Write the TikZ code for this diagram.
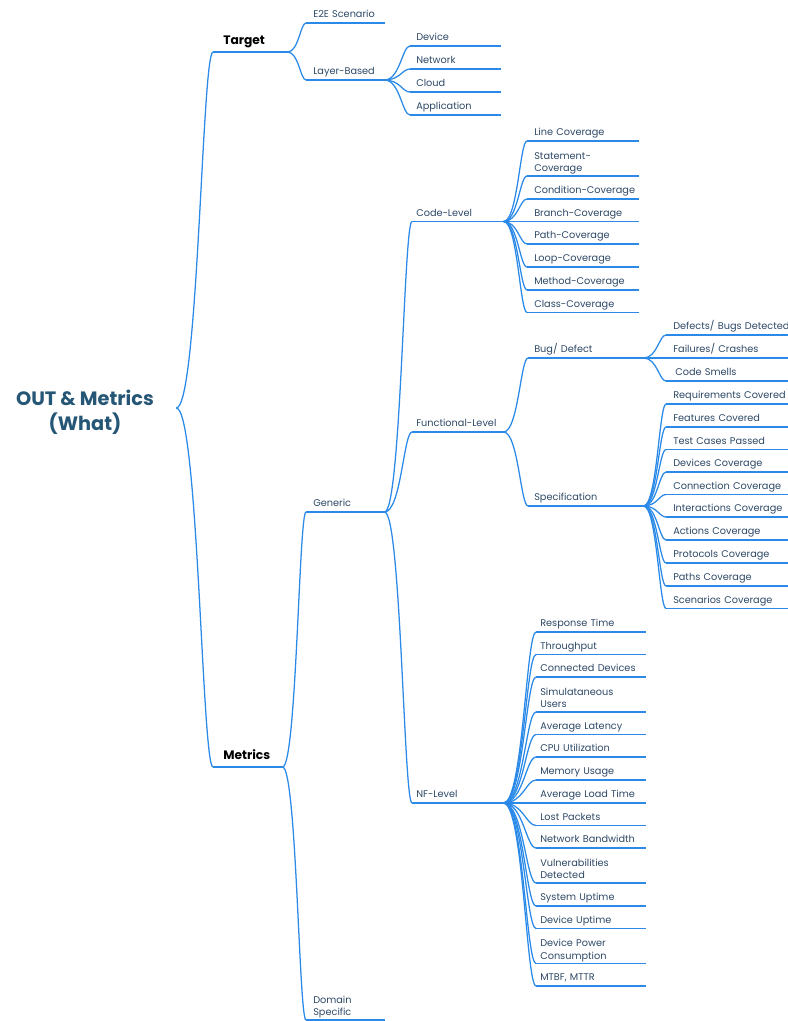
\documentclass[tikz,border=0pt]{standalone}
\usepackage{fontspec}
\setmainfont{Poppins}
\usetikzlibrary{calc}
\definecolor{lnc}{RGB}{43,138,232}
\definecolor{txt}{RGB}{45,72,102}
\definecolor{rootc}{RGB}{38,86,117}
\newcommand\nobrk{\hyphenpenalty 10000\relax\exhyphenpenalty 10000\relax}
\newcommand\br[2]{\draw[ln] let \p1=(#1), \p2=(#2) in (\p1) .. controls ({\x1+0.6*(\x2-\x1)},\y1) and ({\x2-0.3*(\x2-\x1)},\y2) .. (\p2);}
\tikzset{
  ln/.style={draw=lnc, line width=0.95pt},
  base/.style={anchor=south west, inner ysep=0pt, align=left, text=txt,
    font={\fontsize{7.3pt}{9.25pt}\selectfont\nobrk},
    text depth=3.8pt,
    append after command={(\tikzlastnode.south west) edge[ln] (\tikzlastnode.south east)}},
  two/.style={text depth=12.3pt},
  hd/.style={base, text=black, font={\fontsize{9.2pt}{11pt}\selectfont\bfseries}, inner xsep=7.5pt, text depth=5.7pt},
  ltwo/.style={base, inner xsep=5.25pt, text width=48pt},
  llay/.style={base, inner xsep=4.5pt, text width=58.5pt},
  lthree/.style={base, inner xsep=3pt, text width=62.25pt},
  lcode/.style={base, inner xsep=5.25pt, text width=72.75pt},
  lfun/.style={base, inner xsep=4.5pt, text width=77.25pt},
  lspec/.style={base, inner xsep=5.25pt, text width=87pt},
  lnf/.style={base, inner xsep=3pt, text width=75.75pt},
  rootn/.style={minimum width=136.5pt, align=center, text=rootc,
    font={\fontsize{14.5pt}{18.5pt}\selectfont\bfseries}}
}
\begin{document}
\begin{tikzpicture}[x=0.75pt,y=-0.75pt]
\useasboundingbox (0,0) rectangle (788,1021);
\clip (0,0) rectangle (788,1021);
% root
\node[rootn] (root) at (85,412) {OUT \& Metrics\\(What)};
% level 1
\node[hd, text width=40.5pt] (target) at (213,52) {Target};
\node[hd, text width=36.75pt] (metrics) at (213,767) {Metrics};
% level 2
\node[ltwo] (e2e) at (306,23) {E2E~Scenario};
\node[ltwo] (layer) at (306,80) {Layer-Based};
\node[ltwo] (generic) at (306,512) {Generic};
\node[ltwo, two] (domain) at (306,1020) {Domain\\Specific};
% layer kids
\node[llay] (device) at (410,46) {Device};
\node[llay] (network) at (410,69) {Network};
\node[llay] (cloud) at (410,92) {Cloud};
\node[llay] (app) at (410,115) {Application};
% level 3
\node[lthree] (code) at (412,221.5) {Code-Level};
\node[lthree] (func) at (412,432) {Functional-Level};
\node[lthree] (nf) at (412,803) {NF-Level};
% code kids
\node[lcode] (c1) at (527,141) {Line~Coverage};
\node[lcode, two] (c2) at (527,176) {Statement-\\Coverage};
\node[lcode] (c3) at (527,199) {Condition-Coverage};
\node[lcode] (c4) at (527,221.5) {Branch-Coverage};
\node[lcode] (c5) at (527,244) {Path-Coverage};
\node[lcode] (c6) at (527,267) {Loop-Coverage};
\node[lcode] (c7) at (527,290) {Method-Coverage};
\node[lcode] (c8) at (527,312.5) {Class-Coverage};
% functional kids
\node[lfun] (bug) at (528,358) {Bug/~Defect};
\node[lfun] (spec) at (528,506) {Specification};
% bug kids
\node[lspec] (b1) at (666,335) {Defects/~Bugs~Detected};
\node[lspec] (b2) at (666,358) {Failures/~Crashes};
\node[lspec] (b3) at (666,381) {\hspace*{1.5pt}Code~Smells};
% spec kids
\node[lspec] (s1) at (666,404) {Requirements~Covered};
\node[lspec] (s2) at (666,427) {Features~Covered};
\node[lspec] (s3) at (666,449.5) {Test~Cases~Passed};
\node[lspec] (s4) at (666,472) {Devices~Coverage};
\node[lspec] (s5) at (666,494.5) {Connection~Coverage};
\node[lspec] (s6) at (666,517) {Interactions~Coverage};
\node[lspec] (s7) at (666,540) {Actions~Coverage};
\node[lspec] (s8) at (666,563) {Protocols~Coverage};
\node[lspec] (s9) at (666,586) {Paths~Coverage};
\node[lspec] (s10) at (666,608.5) {Scenarios~Coverage};
% nf kids
\node[lnf] (n1) at (536,632) {Response~Time};
\node[lnf] (n2) at (536,654.5) {Throughput};
\node[lnf] (n3) at (536,677) {Connected~Devices};
\node[lnf, two] (n4) at (536,712) {Simulataneous\\Users};
\node[lnf] (n5) at (536,734.5) {Average~Latency};
\node[lnf] (n6) at (536,757) {CPU~Utilization};
\node[lnf] (n7) at (536,780) {Memory~Usage};
\node[lnf] (n8) at (536,803) {Average~Load~Time};
\node[lnf] (n9) at (536,825.5) {Lost~Packets};
\node[lnf] (n10) at (536,848) {Network~Bandwidth};
\node[lnf, two] (n11) at (536,883) {Vulnerabilities\\Detected};
\node[lnf] (n12) at (536,906) {System~Uptime};
\node[lnf] (n13) at (536,928.5) {Device~Uptime};
\node[lnf, two] (n14) at (536,963.5) {Device~Power\\Consumption};
\node[lnf] (n15) at (536,986) {MTBF,~MTTR};
% connectors
\br{[yshift=3pt]root.east}{target.south west}
\br{[yshift=3pt]root.east}{metrics.south west}
\br{target.south east}{e2e.south west}
\br{target.south east}{layer.south west}
\br{metrics.south east}{generic.south west}
\br{metrics.south east}{domain.south west}
\foreach \k in {device,network,cloud,app} {\br{layer.south east}{\k.south west}}
\foreach \k in {code,func,nf} {\br{generic.south east}{\k.south west}}
\foreach \k in {c1,c2,c3,c4,c5,c6,c7,c8} {\br{code.south east}{\k.south west}}
\foreach \k in {bug,spec} {\br{func.south east}{\k.south west}}
\foreach \k in {b1,b2,b3} {\br{bug.south east}{\k.south west}}
\foreach \k in {s1,s2,s3,s4,s5,s6,s7,s8,s9,s10} {\br{spec.south east}{\k.south west}}
\foreach \k in {n1,n2,n3,n4,n5,n6,n7,n8,n9,n10,n11,n12,n13,n14,n15} {\br{nf.south east}{\k.south west}}
\end{tikzpicture}
\end{document}
